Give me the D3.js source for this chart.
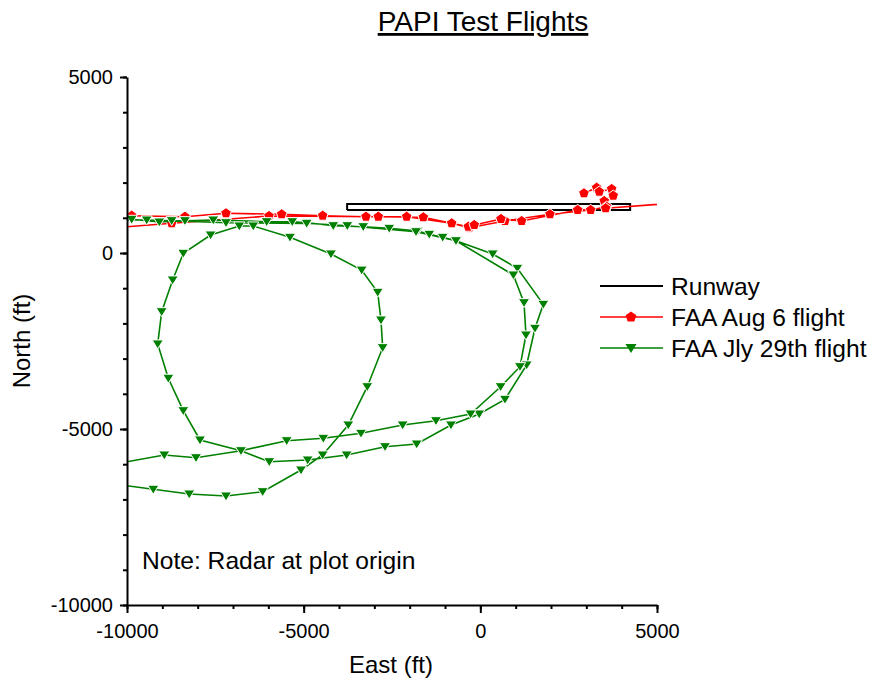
<!DOCTYPE html>
<html lang="en">
<head>
  <meta charset="UTF-8">
  <script src="https://d3js.org/d3.v7.min.js"></script>
  <title>PAPI Test Flights</title>
  <style>
    body { margin: 0; background: #fff; }
    text { font-family: "Liberation Sans", Arial, sans-serif; fill: #000; }
  </style>
</head>
<body>
  <svg id="chart" width="874" height="683"></svg>
  <script>
    // runway outline (closed polygon)
    const runwayEast  = [-3770, 4240, 4240, -3770, -3770];
    const runwayNorth = [1220, 1220, 1390, 1390, 1220];

    // FAA Aug 6 flight
    const augEast = [2933, 3292, 3366, 3717, 3762, 3507, 3575, 3123, 1971, 697, -313, -811,
      -2085, -3236, -4462, -5622, -7198, -8359, -9867, -11000,
      -11000, -8735, -5981, -2888, -1614, -341, -171, 584, 1169, 2755, 3547, 6000];
    const augNorth = [1696, 1855, 1742, 1818, 1628, 1477, 1315, 1222, 1100, 909, 719, 843,
      1031, 1031, 1060, 1100, 1128, 1031, 1060, 1070,
      672, 843, 1051, 1031, 1014, 747, 795, 966, 909, 1222, 1270, 1460];

    // FAA Jly 29th flight
    const jlyEast = [-11000, -9867, -9086, -8359, -7558, -6047, -5322, -4886, -4162, -3314, -2578,
      -1773, -1445, -1065, -689, 349, 1048, 1783, 1547, 1311, 697, -31, -831, -1801, -2698,
      -3783, -4886, -5973, -6774, -7934, -8407, -8831, -9131, -9018, -8707, -8407, -7634,
      -6822, -6426, -5387, -4227, -3358, -2905, -2812, -2764, -3200, -3737, -4462, -5076,
      -6160, -7198, -8239, -9256, -11000,
      -11000, -8944, -8047, -6774, -5480, -4444, -3378, -2198, -1255, -275, 575, 1122, 1292,
      1236, 935, -689, -1820, -3765, -4915, -7198, -8735, -9442, -11000];
    const jlyNorth = [965, 957, 880, 917, 937, 889, 889, 861, 775, 747, 701,
      625, 531, 446, 349, -28, -435, -1458, -2140, -3182, -4157, -4574, -4886, -5427, -5503,
      -5739, -5881, -5930, -5617, -5313, -4480, -3560, -2585, -1668, -767, -9, 511,
      767, 767, 446, -28, -487, -1117, -1904, -2690, -3799, -4886, -5739, -6165,
      -6781, -6904, -6847, -6713, -6474,
      -6111, -5739, -5816, -5617, -5333, -5265, -5123, -4886, -4765, -4574, -3799, -3230, -2330,
      -1412, -625, 349, 605, 775, 843, 861, 917, 937, 950];

    const majorTicks = [-10000, -5000, 0, 5000];
    const minorTicks = d3.range(-10000, 5001, 1000);

    const seriesNames = ["Runway", "FAA Aug 6 flight", "FAA Jly 29th flight"];
    const seriesColors = ["#000000", "#ff0000", "#008000"];

    const svg = d3.select("#chart");
    const xScale = d3.scaleLinear().domain([-10000, 5000]).range([127, 657]);
    const yScale = d3.scaleLinear().domain([-10000, 5000]).range([605, 77]);

    svg.append("defs").append("clipPath").attr("id", "plotClip")
      .append("rect")
      .attr("x", xScale(-10000)).attr("y", yScale(5000))
      .attr("width", xScale(5000) - xScale(-10000))
      .attr("height", yScale(-10000) - yScale(5000));

    // pentagon marker
    const pentagon = {
      draw(ctx, size) {
        const r = Math.sqrt(size / 2.378);
        for (let i = 0; i < 5; i++) {
          const a = -Math.PI / 2 + i * 2 * Math.PI / 5;
          if (i === 0) ctx.moveTo(r * Math.cos(a), r * Math.sin(a));
          else ctx.lineTo(r * Math.cos(a), r * Math.sin(a));
        }
        ctx.closePath();
      }
    };
    const triDown = {
      draw(ctx, size) {
        const h = Math.sqrt(size * 0.9);
        ctx.moveTo(-h * 0.62, -h * 0.45);
        ctx.lineTo(h * 0.62, -h * 0.45);
        ctx.lineTo(0, h * 0.55);
        ctx.closePath();
      }
    };

    const zip = (xs, ys) => xs.map((x, i) => [x, ys[i]]);
    const line = d3.line().x(d => xScale(d[0])).y(d => yScale(d[1]));
    const inside = d => d[0] >= -10000 && d[0] <= 5000 && d[1] >= -10000 && d[1] <= 5000;

    const plot = svg.append("g").attr("clip-path", "url(#plotClip)");

    // runway
    plot.append("path")
      .attr("d", line(zip(runwayEast, runwayNorth)))
      .attr("fill", "none")
      .attr("stroke", seriesColors[0])
      .attr("stroke-width", 2);

    const drawSeries = (pts, color, shape, size) => {
      plot.append("path")
        .attr("d", line(pts))
        .attr("fill", "none")
        .attr("stroke", color)
        .attr("stroke-width", 1.6);
      plot.selectAll(null)
        .data(pts.filter(inside))
        .enter()
        .append("path")
        .attr("transform", d => `translate(${xScale(d[0])},${yScale(d[1])})`)
        .attr("d", d3.symbol().type(shape).size(size))
        .attr("fill", color)
        .attr("stroke", "#fff")
        .attr("stroke-width", 1);
    };

    drawSeries(zip(augEast, augNorth), seriesColors[1], pentagon, 75);
    drawSeries(zip(jlyEast, jlyNorth), seriesColors[2], triDown, 90);

    // axes: minor then major ticks
    const plain = d => String(d);
    const styleAxis = g => {
      g.selectAll("path.domain").attr("stroke-width", 2);
      g.selectAll(".tick line").attr("stroke-width", 2);
      g.selectAll("text").style("font-size", "20px").style("font-family", "'Liberation Sans', Arial, sans-serif");
    };

    svg.append("g")
      .attr("transform", `translate(0,${yScale(-10000)})`)
      .call(d3.axisBottom(xScale).tickValues(minorTicks).tickSize(4).tickSizeOuter(0).tickFormat(""))
      .call(styleAxis);
    svg.append("g")
      .attr("transform", `translate(0,${yScale(-10000)})`)
      .call(d3.axisBottom(xScale).tickValues(majorTicks).tickSize(8).tickSizeOuter(0).tickPadding(11).tickFormat(plain))
      .call(styleAxis)
      .call(g => g.select("path.domain").remove());

    svg.append("g")
      .attr("transform", `translate(${xScale(-10000)},0)`)
      .call(d3.axisLeft(yScale).tickValues(minorTicks).tickSize(4).tickSizeOuter(0).tickFormat(""))
      .call(styleAxis);
    svg.append("g")
      .attr("transform", `translate(${xScale(-10000)},0)`)
      .call(d3.axisLeft(yScale).tickValues(majorTicks).tickSize(7).tickSizeOuter(0).tickPadding(7).tickFormat(plain))
      .call(styleAxis)
      .call(g => g.select("path.domain").remove());

    // titles
    svg.append("text")
      .attr("x", 483).attr("y", 31)
      .attr("text-anchor", "middle")
      .style("font-size", "28px")
      .style("text-decoration", "underline")
      .text("PAPI Test Flights");

    svg.append("text")
      .attr("x", 391).attr("y", 673)
      .attr("text-anchor", "middle")
      .style("font-size", "24px")
      .text("East (ft)");

    svg.append("text")
      .attr("transform", "translate(30,341) rotate(-90)")
      .attr("text-anchor", "middle")
      .style("font-size", "24px")
      .text("North (ft)");

    svg.append("text")
      .attr("x", 142).attr("y", 569)
      .style("font-size", "24.6px")
      .text("Note: Radar at plot origin");

    // legend
    const legendY = [286, 317, 348];
    const legendShapes = [null, pentagon, triDown];
    const legendSizes = [0, 75, 90];
    const legend = svg.append("g");
    seriesNames.forEach((name, i) => {
      legend.append("line")
        .attr("x1", 600).attr("x2", 663)
        .attr("y1", legendY[i]).attr("y2", legendY[i])
        .attr("stroke", seriesColors[i])
        .attr("stroke-width", i === 0 ? 2 : 1.6);
      if (legendShapes[i]) {
        legend.append("path")
          .attr("transform", `translate(631,${legendY[i]})`)
          .attr("d", d3.symbol().type(legendShapes[i]).size(legendSizes[i]))
          .attr("fill", seriesColors[i]);
      }
      legend.append("text")
        .attr("x", 671).attr("y", legendY[i] + 9)
        .style("font-size", "24.6px")
        .text(name);
    });
  </script>
</body>
</html>
